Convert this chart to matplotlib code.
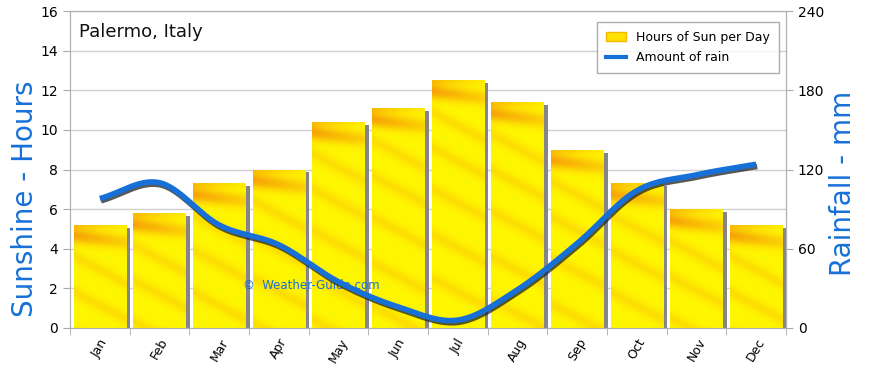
import numpy as np
import matplotlib
matplotlib.use("Agg")
import matplotlib.pyplot as plt
import matplotlib.patheffects as pe
from matplotlib.patches import Patch
from matplotlib.lines import Line2D

months = ["Jan", "Feb", "Mar", "Apr", "May", "Jun", "Jul", "Aug", "Sep", "Oct", "Nov", "Dec"]
sun_hours = [5.2, 5.8, 7.3, 8.0, 10.4, 11.1, 12.5, 11.4, 9.0, 7.3, 6.0, 5.2]
rain_mm = [98, 110, 78, 63, 35, 16, 6, 29, 64, 104, 116, 124]
left_ticks = [0, 2, 4, 6, 8, 10, 12, 14, 16]
right_ticks = [0, 60, 120, 180, 240]

plt.rcParams['font.family'] = ['DejaVu Sans']
BLUE = "#1670d8"

fig = plt.figure(figsize=(8.7, 3.68), dpi=100)
ax = fig.add_axes([0.0805, 0.1087, 0.8229, 0.8613])
ax2 = ax.twinx()

x = np.arange(len(months))

yellow = np.array([1.0, 0.965, 0.0])
orange = np.array([0.97, 0.64, 0.03])


def texture(h, rows_per_unit=20, cols=60):
    rows = max(int(h * rows_per_unit), 2)
    d = np.linspace(0, h, rows)[:, None]          # distance from top (data units)
    xx = np.linspace(0, 1, cols)[None, :]
    top = np.exp(-((d - 0.55 - 0.35 * xx) / 0.38) ** 2) * (1 - 0.55 * xx)
    top += 0.6 * np.exp(-(d / 0.25) ** 2) * (1 - 0.8 * xx)
    streaks = np.zeros_like(top)
    for c in (1.6, 3.4, 5.5, 7.8, 10.0):
        streaks += 0.28 * np.exp(-(((d - c) - 1.4 * xx) / 0.35) ** 2)
    amt = np.clip(top + streaks, 0, 1)
    return yellow[None, None, :] * (1 - amt[..., None]) + orange[None, None, :] * amt[..., None]


bw = 0.88
for i, h in enumerate(sun_hours):
    ax.bar(x[i] + bw / 2 + 0.035, h - 0.15, width=0.07, bottom=0, color="#858585",
           zorder=2, align="center")
    rect = ax.bar(x[i], h, width=bw, color="#fff200", zorder=3)[0]
    im = ax.imshow(texture(h), extent=(x[i] - bw / 2, x[i] + bw / 2, 0, h), origin="upper",
                   aspect="auto", zorder=3.5, interpolation="bilinear")
    im.set_clip_path(rect)

ax.set_xlim(-0.5, len(months) - 0.5)
ax.set_ylim(0, 16)
ax2.set_ylim(0, 240)


def catmull(xs, ys, n=30):
    xs = np.asarray(xs, float); ys = np.asarray(ys, float)
    px = np.concatenate([[2 * xs[0] - xs[1]], xs, [2 * xs[-1] - xs[-2]]])
    py = np.concatenate([[2 * ys[0] - ys[1]], ys, [2 * ys[-1] - ys[-2]]])
    outx, outy = [], []
    for k in range(1, len(px) - 2):
        t = np.linspace(0, 1, n, endpoint=False)
        for p, out in ((px, outx), (py, outy)):
            p0, p1, p2, p3 = p[k - 1], p[k], p[k + 1], p[k + 2]
            out.extend(0.5 * ((2 * p1) + (-p0 + p2) * t + (2 * p0 - 5 * p1 + 4 * p2 - p3) * t ** 2
                              + (-p0 + 3 * p1 - 3 * p2 + p3) * t ** 3))
    outx.append(xs[-1]); outy.append(ys[-1])
    return np.array(outx), np.array(outy)


cx, cy = catmull(x, rain_mm)
ax2.plot(cx, cy, color=BLUE, lw=4, solid_capstyle="butt", zorder=5,
         path_effects=[pe.SimpleLineShadow(offset=(0.8, -1.6), shadow_color="#222222", alpha=0.75),
                       pe.Normal()])

ax.set_yticks(left_ticks)
ax2.set_yticks(right_ticks)
ax.yaxis.grid(True, color="#d0d0d0", lw=1, zorder=0)
ax.set_axisbelow(True)
ax.set_xticks(x)
ax.set_xticklabels(months, rotation=60, fontsize=9, ha="center")
ax.set_xticks(np.arange(-0.5, len(months)), minor=True)
ax.tick_params(axis="x", which="major", length=0, pad=6)
ax.tick_params(axis="x", which="minor", length=5, color="#aaaaaa")
ax.tick_params(axis="y", length=5, color="#aaaaaa", labelsize=10)
ax2.tick_params(axis="y", length=5, color="#aaaaaa", labelsize=10)
for a in (ax, ax2):
    for s in a.spines.values():
        s.set_color("#b0b0b0")

fig.text(25 / 870, 1 - 199 / 368, "Sunshine - Hours", rotation=90, color=BLUE,
         fontsize=20, ha="center", va="center")
fig.text(843 / 870, 1 - 183 / 368, "Rainfall - mm", rotation=90, color=BLUE,
         fontsize=20, ha="center", va="center")

ax.text(0.012, 0.935, "Palermo, Italy", transform=ax.transAxes, fontsize=13,
        va="center", ha="left", color="#111111")
ax.text(0.241, 0.135, "\u00a9  Weather-Guide.com", transform=ax.transAxes, fontsize=8.5,
        color=BLUE, zorder=6, va="center")

handles = [Patch(facecolor="#ffe000", edgecolor="#f5b800"),
           Line2D([0], [0], color=BLUE, lw=3)]
leg = ax2.legend(handles, ["Hours of Sun per Day", "Amount of rain"], loc="upper right",
                 bbox_to_anchor=(0.990, 0.965), borderaxespad=0, fontsize=9, frameon=True,
                 fancybox=False, edgecolor="#999999", handlelength=1.6, borderpad=0.7,
                 labelspacing=0.6)
leg.get_frame().set_linewidth(1)

fig.savefig("out.png", dpi=100)
